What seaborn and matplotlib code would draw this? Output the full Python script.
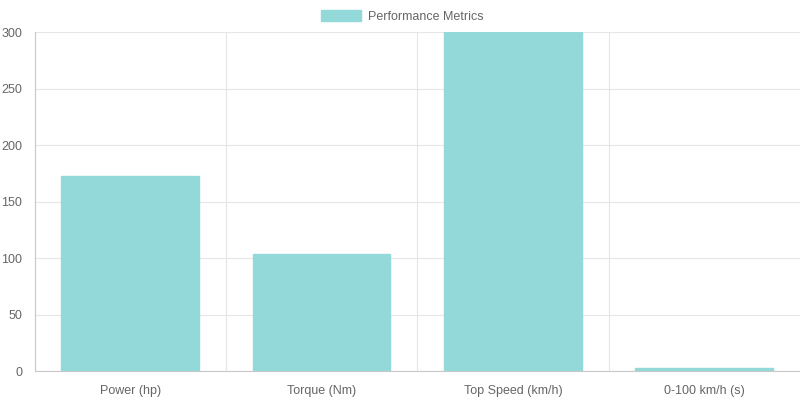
import matplotlib
matplotlib.use('Agg')
import matplotlib.pyplot as plt
import seaborn as sns
import pandas as pd
from matplotlib.patches import Patch

# Data
categories = ['Power (hp)', 'Torque (Nm)', 'Top Speed (km/h)', '0-100 km/h (s)']
values = [173, 104, 300, 2.7]
series_name = 'Performance Metrics'

df = pd.DataFrame({'metric': categories, 'value': values})

sns.set_style('white')
plt.rcParams['font.family'] = ['Liberation Sans', 'DejaVu Sans']

fig = plt.figure(figsize=(8, 4), dpi=100)
ax = fig.add_axes([34.5 / 800, 29 / 400, (800 - 34.5) / 800, (371 - 32.3) / 400])

bar_color = '#93d9d9'
sns.barplot(data=df, x='metric', y='value', color=bar_color, width=0.72,
            saturation=1, edgecolor=bar_color, linewidth=1, ax=ax)

ax.set_xlim(-0.5, 3.5)
ax.set_ylim(0, 300)
ax.set_yticks([0, 50, 100, 150, 200, 250, 300])

# category boundary gridlines (Chart.js style)
ax.set_xticks([-0.5, 0.5, 1.5, 2.5], minor=True)
ax.grid(True, which='minor', axis='x', color='#e6e6e6', linewidth=0.8)
ax.grid(True, which='major', axis='y', color='#e6e6e6', linewidth=0.8)
ax.set_axisbelow(True)

ax.tick_params(axis='x', which='major', length=0, pad=10, labelsize=9, labelcolor='#666666')
ax.tick_params(axis='x', which='minor', length=6, color='#e6e6e6', width=0.8)
ax.tick_params(axis='y', length=6, color='#e6e6e6', width=0.8, pad=3, labelsize=9, labelcolor='#666666')

for side in ['top', 'right']:
    ax.spines[side].set_visible(False)
for side in ['left', 'bottom']:
    ax.spines[side].set_color('#c8c8c8')
    ax.spines[side].set_linewidth(0.8)

ax.set_xlabel('')
ax.set_ylabel('')

handle = Patch(facecolor=bar_color, edgecolor=bar_color)
fig.legend([handle], [series_name], loc='center', bbox_to_anchor=(0.503, 1 - 16.5 / 400),
           frameon=False, fontsize=9, labelcolor='#666666',
           handlelength=3.2, handleheight=0.95, handletextpad=0.6)

plt.savefig('out.png', dpi=100)
